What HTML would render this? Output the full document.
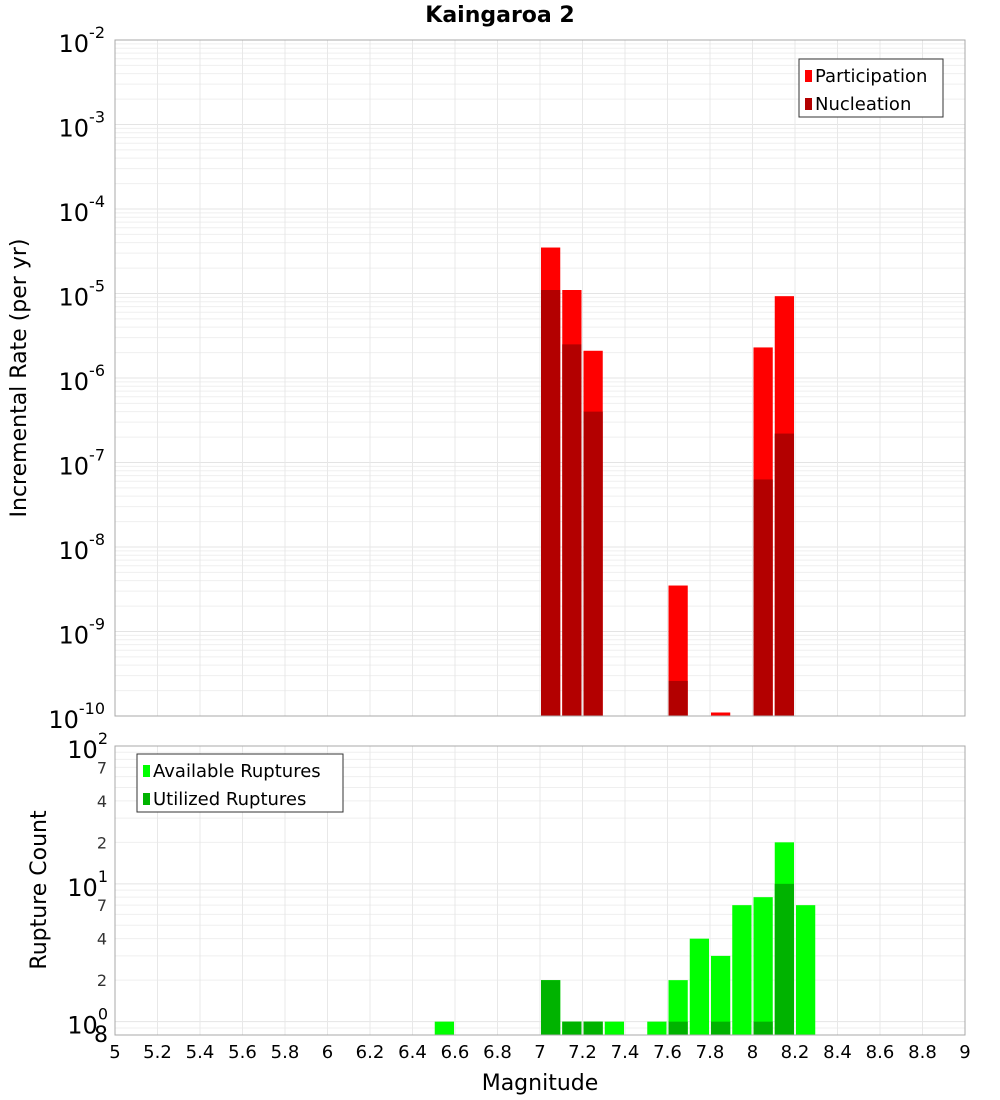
<!DOCTYPE html>
<html><head><meta charset="utf-8"><style>body{margin:0;background:#fff}svg{display:block;font-family:"DejaVu Sans","Liberation Sans",sans-serif}</style></head>
<body>
<svg id="c" width="1000" height="1100"></svg>
<script>
const mags=[7.0,7.1,7.2,7.6,7.8,8.0,8.1];
const participation=[3.5e-5,1.1e-5,2.1e-6,3.5e-9,1.1e-10,2.3e-6,9.3e-6];
const nucleation=[1.1e-5,2.5e-6,4e-7,2.6e-10,0,6.3e-8,2.2e-7];
const cntMags=[6.5,7.0,7.1,7.2,7.3,7.5,7.6,7.7,7.8,7.9,8.0,8.1,8.2];
const available=[1,2,1,1,1,1,2,4,3,7,8,20,7];
const utilized=[0,2,1,1,0,0,1,0,1,0,1,10,0];
const xTicks=[5,5.2,5.4,5.6,5.8,6,6.2,6.4,6.6,6.8,7,7.2,7.4,7.6,7.8,8,8.2,8.4,8.6,8.8,9];
const NS='http://www.w3.org/2000/svg';
const svg=document.getElementById('c');
function el(t,a,txt,p){const e=document.createElementNS(NS,t);for(const k in a)e.setAttribute(k,a[k]);if(txt!=null)e.textContent=txt;(p||svg).appendChild(e);return e;}
const L=115,R=965;
const x=m=>L+(m-5)/4*(R-L);
const T1=40,B1=716,y1=v=>T1+(-2-Math.log10(v))/8*(B1-T1);
const T2=746,B2=1035,lo=Math.log10(0.8),y2=v=>B2-(Math.log10(v)-lo)/(2-lo)*(B2-T2);
function grid(T,B,ymap,dmin,dmax){
 for(let d=dmin;d<dmax;d++)for(let k=1;k<10;k++){const v=k*Math.pow(10,d);const yy=ymap(v);if(yy<T-0.5||yy>B+0.5)continue;
  const g=el('line',{x1:L,x2:R,y1:yy,y2:yy,stroke:k==1?'#e4e4e4':'#efefef','stroke-width':1});}
 xTicks.forEach(t=>{const g=el('line',{x1:x(t),x2:x(t),y1:T,y2:B,stroke:'#e8e8e8'});});
}
grid(T1,B1,y1,-10,-2);grid(T2,B2,y2,-1,2);
const bw=(R-L)/40;
mags.forEach((m,i)=>{
 const r=el('rect',{x:x(m)+1,y:y1(participation[i]),width:bw-2,height:B1-y1(participation[i]),fill:'#ff0000'});
 
 if(nucleation[i]>0){const n=el('rect',{x:x(m)+1,y:y1(nucleation[i]),width:bw-2,height:B1-y1(nucleation[i]),fill:'#b30000'});
 }
});
cntMags.forEach((m,i)=>{
 const r=el('rect',{x:x(m)+1,y:y2(available[i]),width:bw-2,height:B2-y2(available[i]),fill:'#00ff00'});
 
 if(utilized[i]>0){const n=el('rect',{x:x(m)+1,y:y2(utilized[i]),width:bw-2,height:B2-y2(utilized[i]),fill:'#00b300'});
 }
});
[[T1,B1],[T2,B2]].forEach(([T,B])=>{const f=el('rect',{x:L,y:T,width:R-L,height:B-T,fill:'none',stroke:'#a8a8a8'});});
// top y labels
for(let d=-10;d<=-2;d++){const yy=y1(Math.pow(10,d));
 const t=el('text',{x:105,y:yy+12,'text-anchor':'end','font-size':24});
 el('tspan',{},'10',t);el('tspan',{dy:-14,'font-size':16},String(d),t);}
// bottom y labels
[[100,'2'],[10,'1'],[1,'0']].forEach(([v,e])=>{const yy=y2(v);
 const t=el('text',{x:108,y:yy+12,'text-anchor':'end','font-size':24});
 el('tspan',{},'10',t);el('tspan',{dy:-14,'font-size':16},e,t);});
[[7,'7'],[4,'4'],[2,'2'],[70,'7'],[40,'4'],[20,'2']].forEach(([v,s])=>{const t=el('text',{x:107,y:y2(v)+6,'text-anchor':'end','font-size':16,fill:'#333'},s);});
const t8=el('text',{x:108,y:1042,'text-anchor':'end','font-size':22},'8');
xTicks.forEach(v=>{const t=el('text',{x:x(v),y:1058,'text-anchor':'middle','font-size':18},String(v));});
let t=el('text',{x:540,y:1090,'text-anchor':'middle','font-size':22},'Magnitude');
t=el('text',{x:500,y:22,'text-anchor':'middle','font-size':22,'font-weight':'bold'},'Kaingaroa 2');
t=el('text',{x:26,y:378,'text-anchor':'middle','font-size':22,transform:'rotate(-90 26 378)'},'Incremental Rate (per yr)');
t=el('text',{x:46,y:890,'text-anchor':'middle','font-size':22,transform:'rotate(-90 46 890)'},'Rupture Count');
function legend(x0,y0,w,items,nm){const g=el('g',{});
 el('rect',{x:x0,y:y0,width:w,height:58,fill:'#fff',stroke:'#333'},null,g);
 items.forEach(([c,s],i)=>{el('rect',{x:x0+6,y:y0+11+i*28,width:7,height:12,fill:c},null,g);el('text',{x:x0+16,y:y0+23+i*28,'font-size':18},s,g);});}
legend(799,59,144,[['#ff0000','Participation'],['#b30000','Nucleation']],'legend-top');
legend(137,754,206,[['#00ff00','Available Ruptures'],['#00b300','Utilized Ruptures']],'legend-bottom');
</script>
</body></html>
